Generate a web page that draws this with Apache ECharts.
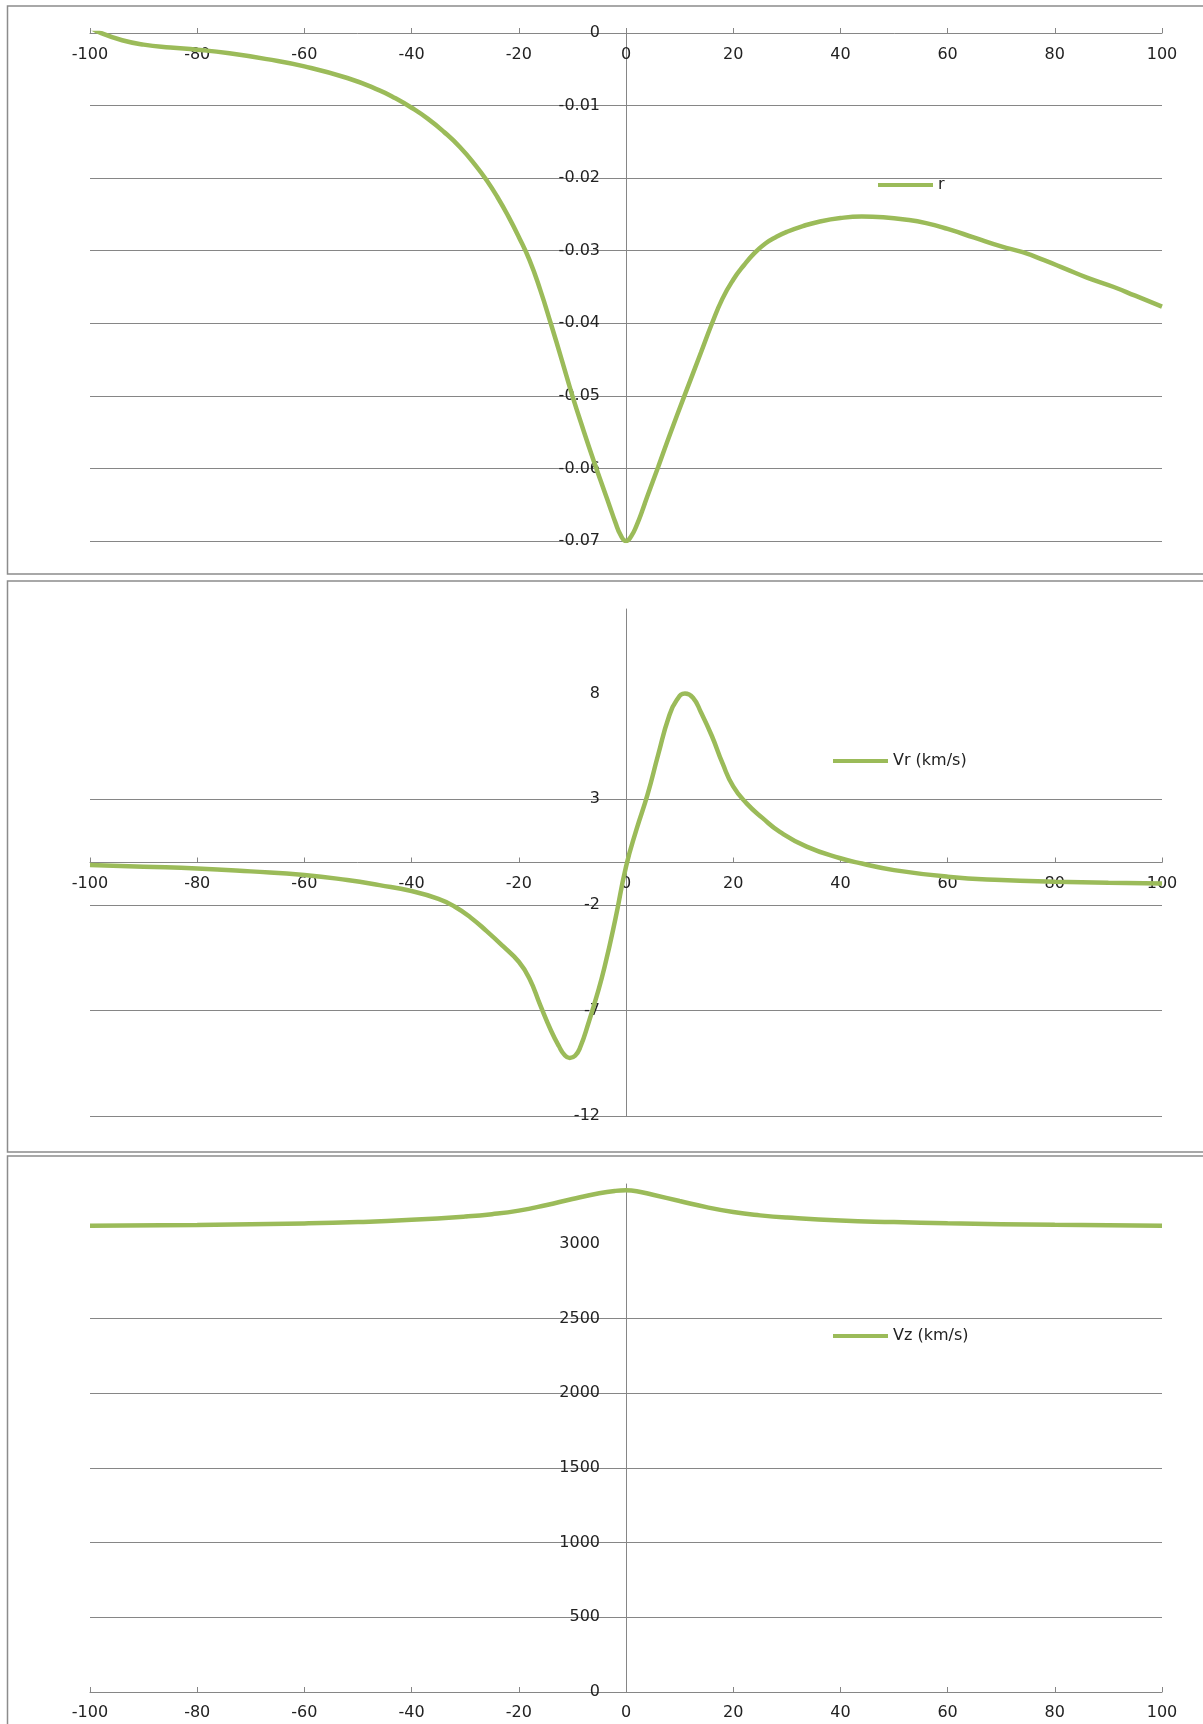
<!DOCTYPE html>
<html>
<head>
<meta charset="utf-8">
<script src="https://cdn.jsdelivr.net/npm/echarts@6/dist/echarts.min.js"></script>
<style>
html, body { margin: 0; padding: 0; background: #fff; }
#chart { width: 1203px; height: 1724px; }
</style>
</head>
<body>
<div id="chart"></div>
<script>
// r profile
const xR = [-100, -98, -94, -90, -85, -80, -74, -67, -60, -52, -46, -43, -40, -37, -34, -31, -28, -26, -24, -22, -20, -18, -16, -14, -12, -10, -8, -6,
    -4, -3, -2, -1, 0, 1, 2, 3, 4, 6, 8, 11, 14, 16, 18, 20, 22, 24, 26, 28, 30, 33, 36, 40, 44, 48, 52, 56, 60, 65, 70, 74, 78, 82, 86, 91, 95, 100];
const rVals = [0.0008, 0, -0.001, -0.0016, -0.002, -0.0023, -0.0028, -0.0036, -0.0046, -0.0062, -0.0079, -0.009, -0.0103, -0.0118, -0.0136,
    -0.0157, -0.0183, -0.0203, -0.0226, -0.0252, -0.0281, -0.0313, -0.0354, -0.0401, -0.045, -0.05, -0.0546, -0.059,
    -0.0632, -0.0653, -0.0674, -0.0692, -0.07, -0.0693, -0.0678, -0.0659, -0.0638, -0.0598, -0.0557, -0.0498, -0.044, -0.0401, -0.0366, -0.034,
    -0.032, -0.0303, -0.029, -0.0281, -0.0274, -0.0266, -0.026, -0.0255, -0.0253, -0.0254, -0.0257, -0.0262, -0.027, -0.0282, -0.0294, -0.0302,
    -0.0313, -0.0325, -0.0337, -0.035, -0.0362, -0.0377];

// Vr profile
const xVr = [-100, -90, -80, -70, -60, -52, -46, -40, -35, -32, -29, -26, -23, -20, -18, -16, -14, -12.5, -11.5, -10.5, -9.5, -8.5, -7, -5.5, -4, -2, 0,
    2, 4, 6, 8, 9.5, 11, 12.5, 14, 16, 18, 20, 22.5, 25.5, 28.7, 33.7, 40, 44, 50, 60, 70, 80, 90, 100];
const vrVals = [-0.12, -0.2, -0.28, -0.42, -0.59, -0.83, -1.07, -1.35, -1.72, -2.08, -2.6, -3.25, -3.95, -4.7, -5.5, -6.75, -7.95, -8.7, -9.1,
    -9.25, -9.15, -8.72, -7.6, -6.35, -4.95, -2.7, -0.2, 1.6, 3.2, 5.1, 6.9, 7.7, 8.0, 7.8, 7.1, 6.0, 4.7, 3.6, 2.8, 2.1, 1.45, 0.75, 0.2, -0.05,
    -0.36, -0.67, -0.83, -0.91, -0.96, -0.99];

// Vz profile
const xVz = [-100, -80, -60, -50, -40, -30, -25, -20, -15, -10, -5, -2, 0, 2, 5, 10, 15, 20, 25, 30, 40, 50, 60, 80, 100];
const vzVals = [3120, 3126, 3136, 3145, 3160, 3182, 3198, 3222, 3258, 3300, 3338, 3354, 3358, 3352, 3328, 3286, 3245, 3212, 3190, 3175, 3155,
    3145, 3137, 3127, 3121];

const vrTicks = [-12, -7, -2, 3, 8];
const vzTicks = [0, 500, 1000, 1500, 2000, 2500, 3000];

const lineColor = '#9bbb59';
const gridColor = '#868686';
const textColor = '#222';
const font = 'DejaVu Sans';
const fontSize = 16;

const gridLeft = 90, gridWidth = 1072;
const grids = [
    { left: gridLeft, width: gridWidth, top: 33, height: 508 },
    { left: gridLeft, width: gridWidth, top: 609, height: 507 },
    { left: gridLeft, width: gridWidth, top: 1184, height: 508 }
];

var zip = function (xs, ys) {
    return xs.map(function (x, i) { return [x, ys[i]]; });
};

var labelStyle = function (extra) {
    return Object.assign({ color: textColor, fontFamily: font, fontSize: fontSize }, extra);
};

// x axis sits where y = 0, labels below the line, ticks pointing up
var xAxisOf = function (gridIndex, position, offset, margin) {
    var top = position === 'top';
    return {
        type: 'value', gridIndex: gridIndex, min: -100, max: 100, interval: 20,
        position: position, offset: offset,
        axisLine: { onZero: false, lineStyle: { color: gridColor, width: 1 } },
        axisTick: { show: true, inside: !top, length: 5, lineStyle: { color: gridColor } },
        axisLabel: labelStyle({ margin: margin, inside: top }),
        splitLine: { show: false }
    };
};

// y axis sits at x = 0
var yAxisOf = function (gridIndex, extra) {
    var o = {
        type: 'value', gridIndex: gridIndex, position: 'left', offset: -gridWidth / 2,
        axisLine: { show: true, onZero: false, lineStyle: { color: gridColor, width: 1 } },
        axisTick: { show: false },
        axisLabel: labelStyle({ margin: 26 }),
        splitLine: { show: true, showMaxLine: false, lineStyle: { color: gridColor, width: 1 } }
    };
    return Object.assign(o, extra);
};

var seriesOf = function (name, idx, data) {
    return {
        name: name, type: 'line', xAxisIndex: idx, yAxisIndex: idx, data: data,
        showSymbol: false, smooth: 0.5, clip: true,
        lineStyle: { color: lineColor, width: 4.5 }, itemStyle: { color: lineColor }
    };
};

var legendOf = function (name, left, top) {
    return {
        data: [name], left: left, top: top, padding: 0, icon: 'rect',
        itemWidth: 55, itemHeight: 4,
        textStyle: { fontFamily: font, fontSize: fontSize, color: textColor }
    };
};

var panelBox = function (y, h) {
    return {
        type: 'rect', shape: { x: 7.5, y: y, width: 1220, height: h },
        style: { fill: 'none', stroke: '#8c8c8c', lineWidth: 1.5 }, silent: true
    };
};

var chart = echarts.init(document.getElementById('chart'), null, { renderer: 'canvas' });
chart.setOption({
    animation: false,
    backgroundColor: '#fff',
    graphic: [panelBox(6, 568), panelBox(581, 571), panelBox(1156, 600)],
    grid: grids,
    xAxis: [
        xAxisOf(0, 'top', 0, 14),
        xAxisOf(1, 'bottom', -grids[1].height / 2, 13),
        xAxisOf(2, 'bottom', 0, 13)
    ],
    yAxis: [
        yAxisOf(0, {
            min: -0.07, max: 0, interval: 0.01,
            axisLabel: labelStyle({
                margin: 26,
                formatter: function (v) { return v === 0 ? '0' : v.toFixed(2); }
            })
        }),
        yAxisOf(1, {
            min: -12, max: 12,
            axisTick: { show: false, customValues: vrTicks },
            axisLabel: labelStyle({ margin: 26, customValues: vrTicks })
        }),
        yAxisOf(2, {
            min: 0, max: 3400,
            axisTick: { show: false, customValues: vzTicks },
            axisLabel: labelStyle({
                margin: 26, customValues: vzTicks,
                formatter: function (v) { return String(v); }
            })
        })
    ],
    legend: [
        legendOf('r', 878, 177),
        legendOf('Vr (km/s)', 833, 753),
        legendOf('Vz (km/s)', 833, 1328)
    ],
    series: [
        seriesOf('r', 0, zip(xR, rVals)),
        seriesOf('Vr (km/s)', 1, zip(xVr, vrVals)),
        seriesOf('Vz (km/s)', 2, zip(xVz, vzVals))
    ]
});
</script>
</body>
</html>
